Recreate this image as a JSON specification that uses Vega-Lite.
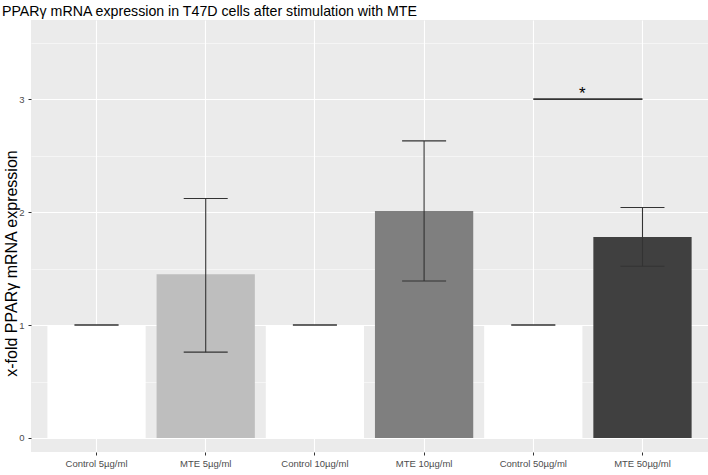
{
  "$schema": "https://vega.github.io/schema/vega-lite/v6.json",
  "width": 677,
  "height": 432,
  "autosize": {"type": "none"},
  "padding": {"left": 31, "top": 20, "right": 0, "bottom": 23},
  "background": "white",
  "title": {"text": "PPARγ mRNA expression in T47D cells after stimulation with MTE", "anchor": "start", "fontSize": 14.2, "fontWeight": "normal", "font": "Liberation Sans", "color": "#000000", "offset": 1, "dx": -1},
  "config": {
    "view": {"stroke": null, "fill": "#EBEBEB"},
    "font": "Liberation Sans",
    "axis": {"domain": false, "tickColor": "#333333", "tickSize": 3, "labelColor": "#4D4D4D", "labelFontSize": 9.5, "labelFont": "Liberation Sans", "gridColor": "#FFFFFF", "titleFont": "Liberation Sans", "titleFontWeight": "normal", "titleColor": "#000000", "titleFontSize": 11.8}
  },
  "datasets": {
    "bars": [
      {"group": "Control 5µg/ml", "mean": 1.0, "lo": 1.0, "hi": 1.0},
      {"group": "MTE 5µg/ml", "mean": 1.45, "lo": 0.76, "hi": 2.12},
      {"group": "Control 10µg/ml", "mean": 1.0, "lo": 1.0, "hi": 1.0},
      {"group": "MTE 10µg/ml", "mean": 2.01, "lo": 1.39, "hi": 2.63},
      {"group": "Control 50µg/ml", "mean": 1.0, "lo": 1.0, "hi": 1.0},
      {"group": "MTE 50µg/ml", "mean": 1.78, "lo": 1.52, "hi": 2.04}
    ],
    "sig": [
      {"from": "Control 50µg/ml", "to": "MTE 50µg/ml", "y": 3.0, "label": "*"}
    ]
  },
  "layer": [
    {
      "data": {"name": "bars"},
      "mark": {"type": "bar", "stroke": null},
      "encoding": {
        "x": {"field": "group", "type": "nominal", "sort": null,
              "scale": {"paddingInner": 0.1, "paddingOuter": 0.15},
              "axis": {"title": null, "labelAngle": 0, "grid": true, "gridWidth": 1.1, "bandPosition": 0.5, "labelPadding": 3}},
        "y": {"field": "mean", "type": "quantitative",
              "scale": {"domain": [-0.124, 3.70], "nice": false, "zero": false},
              "axis": {"title": "x-fold PPARγ mRNA expression", "values": [0, 0.5, 1, 1.5, 2, 2.5, 3, 3.5],
                       "labelExpr": "datum.value % 1 === 0 ? datum.label : ''",
                       "format": ".1~f",
                       "gridWidth": {"condition": {"test": "datum.value % 1 !== 0", "value": 0.5}, "value": 1.1},
                       "tickOpacity": {"condition": {"test": "datum.value % 1 !== 0", "value": 0}, "value": 1},
                       "titleFontSize": 16, "titleX": -15, "titleY": 243, "titleAlign": "center", "titleBaseline": "alphabetic", "labelPadding": 4}},
        "y2": {"datum": 0},
        "color": {"field": "group", "type": "nominal", "legend": null,
                  "scale": {"domain": ["Control 5µg/ml", "MTE 5µg/ml", "Control 10µg/ml", "MTE 10µg/ml", "Control 50µg/ml", "MTE 50µg/ml"],
                            "range": ["#FFFFFF", "#BEBEBE", "#FFFFFF", "#7F7F7F", "#FFFFFF", "#404040"]}}
      }
    },
    {
      "data": {"name": "bars"},
      "mark": {"type": "rule", "color": "#333333", "strokeWidth": 1.1},
      "encoding": {
        "x": {"field": "group", "type": "nominal", "sort": null},
        "y": {"field": "lo", "type": "quantitative"},
        "y2": {"field": "hi"}
      }
    },
    {
      "data": {"name": "bars"},
      "mark": {"type": "tick", "color": "#333333", "thickness": 1.1, "size": 44, "opacity": 1},
      "encoding": {
        "x": {"field": "group", "type": "nominal", "sort": null},
        "y": {"field": "lo", "type": "quantitative"}
      }
    },
    {
      "data": {"name": "bars"},
      "mark": {"type": "tick", "color": "#333333", "thickness": 1.1, "size": 44, "opacity": 1},
      "encoding": {
        "x": {"field": "group", "type": "nominal", "sort": null},
        "y": {"field": "hi", "type": "quantitative"}
      }
    },
    {
      "data": {"name": "sig"},
      "mark": {"type": "rule", "color": "#333333", "strokeWidth": 1.6},
      "encoding": {
        "x": {"field": "from", "type": "nominal", "sort": null},
        "x2": {"field": "to"},
        "y": {"field": "y", "type": "quantitative"}
      }
    },
    {
      "data": {"name": "sig"},
      "mark": {"type": "text", "fontSize": 17, "color": "#000000", "baseline": "alphabetic", "dy": 0, "dx": 0},
      "encoding": {
        "x": {"field": "from", "type": "nominal", "sort": null, "bandPosition": 1},
        "y": {"field": "y", "type": "quantitative"},
        "text": {"field": "label"}
      }
    }
  ]
}
